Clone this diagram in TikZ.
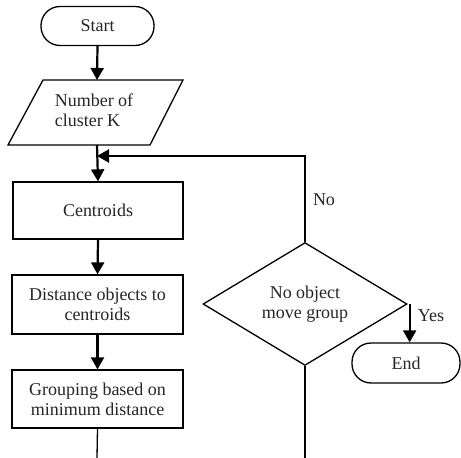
\documentclass[tikz,border=0pt]{standalone}
\usepackage{fontspec}
\setmainfont{Liberation Serif}
\usetikzlibrary{arrows.meta,shapes.geometric}
\begin{document}
\begin{tikzpicture}[x=1pt,y=-1pt,
  every node/.style={font=\fontsize{18}{20}\selectfont, text=black!85},
  procbox/.style={draw, line width=1.3pt, minimum width=171pt, minimum height=58pt, align=center, inner sep=0pt},
  termbox/.style={draw, line width=1.3pt, rounded corners=19pt, minimum height=39pt, inner sep=0pt},
  decbox/.style={draw, line width=1.3pt, diamond, minimum width=204pt, minimum height=102pt, inner sep=0pt, align=center},
  flow/.style={line width=2.2pt, -{Triangle[width=13pt,length=12pt]}},
  plain/.style={line width=1.3pt},
  thickline/.style={line width=2.2pt},
  lbl/.style={inner sep=0pt}
]
\useasboundingbox (0,0) rectangle (461,458);
\fill[white] (0,0) rectangle (461,458);

\node[termbox, minimum width=113pt] (start) at (97.5,26) {Start};

% parallelogram input
\coordinate (pa) at (43,80);
\coordinate (pb) at (183,80);
\coordinate (pc) at (150,145);
\coordinate (pd) at (8,145);
\draw[line width=1.3pt] (pa) -- (pb) -- (pc) -- (pd) -- cycle;
\node[align=left, inner sep=0pt] (inp) at (94,110) {Number of\\cluster K};
\coordinate (inpTop) at (97,80);
\coordinate (inpBot) at (97,145);

\node[procbox, minimum width=170pt, minimum height=57pt] (cen) at (98,210.5) {Centroids};
\node[procbox, minimum height=59pt] (dist) at (97.5,304.5) {Distance objects to\\centroids};
\node[procbox] (grp) at (97.5,399) {Grouping based on\\minimum distance};

\node[decbox] (dec) at (305,304) {No object\\move group};
\node[termbox, minimum width=108pt, minimum height=40pt] (end) at (406,363) {End};

% connectors
\draw[flow] (start.south) -- (inpTop);
\draw[flow] (inpBot) -- (cen.north);
\draw[flow] (cen.south) -- (dist.north);
\draw[flow] (dist.south) -- (grp.north);

\coordinate (bottomL) at (97,458);
\coordinate (bottomR) at (305,458);
\draw[plain] (grp.south) -- (bottomL);
\draw[plain] (dec.south) -- (bottomR);

\coordinate (corner) at (305,156);
\coordinate (join) at (97,156);
\draw[plain] (dec.north) -- (corner);
\draw[thickline, -{Triangle[width=13pt,length=12pt]}] ([xshift=0.6pt]corner) -- (join);

\coordinate (yesStart) at (407,303);
\draw[flow] (dec.east) ++(2,0) coordinate (ye) -- (ye |- end.north);

\node[lbl] (no) at (324,200) {No};
\node[lbl] (yes) at (431,316) {Yes};
\end{tikzpicture}
\end{document}
